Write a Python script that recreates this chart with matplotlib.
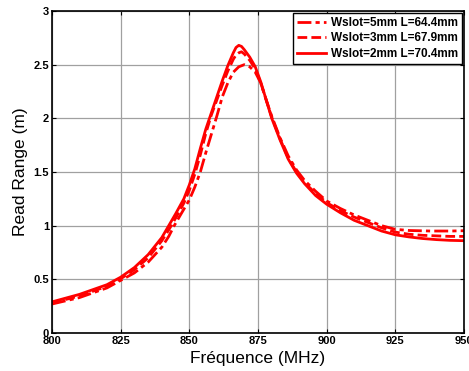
import matplotlib
matplotlib.use("Agg")
import matplotlib.pyplot as plt

freq_5mm = [800, 810, 820, 825, 830, 835, 840, 842.5, 844.5, 847, 850, 852, 854, 856, 858, 860, 862, 864, 866, 868, 870, 872, 874, 876, 878, 880, 883, 886, 889, 892, 896, 900, 905, 910, 913, 920, 925, 930, 938, 945, 950]
rr_5mm = [0.27, 0.33, 0.42, 0.49, 0.56, 0.66, 0.80, 0.90, 1.00, 1.11, 1.24, 1.36, 1.50, 1.68, 1.85, 2.02, 2.20, 2.33, 2.43, 2.48, 2.50, 2.48, 2.43, 2.33, 2.17, 2.02, 1.82, 1.65, 1.52, 1.42, 1.32, 1.23, 1.16, 1.10, 1.07, 1.00, 0.966, 0.955, 0.95, 0.95, 0.953]

freq_3mm = [800, 810, 820, 825, 830, 835, 840, 842.5, 845, 848, 850, 852, 854, 856, 858, 860, 862, 864, 866, 867, 868, 869, 870, 872, 874, 876, 878, 880, 883, 886, 889, 892, 896, 900, 905, 910, 915, 920, 925, 930, 935, 940, 945, 950]
rr_3mm = [0.28, 0.345, 0.435, 0.505, 0.59, 0.70, 0.86, 0.96, 1.07, 1.21, 1.33, 1.48, 1.66, 1.86, 2.03, 2.17, 2.31, 2.44, 2.55, 2.59, 2.61, 2.62, 2.60, 2.54, 2.46, 2.33, 2.17, 2.01, 1.81, 1.63, 1.50, 1.40, 1.30, 1.215, 1.14, 1.08, 1.03, 0.98, 0.94, 0.92, 0.91, 0.905, 0.90, 0.90]

freq_2mm = [800, 810, 820, 825, 830, 835, 840, 842.5, 845, 848, 850, 852, 854, 856, 858, 860, 862, 864, 866, 867, 868, 869, 870, 872, 874, 876, 878, 880, 883, 886, 889, 892, 896, 900, 905, 910, 915, 920, 925, 930, 935, 940, 945, 950]
rr_2mm = [0.29, 0.36, 0.45, 0.52, 0.61, 0.73, 0.89, 1.00, 1.11, 1.25, 1.38, 1.53, 1.72, 1.90, 2.05, 2.20, 2.35, 2.49, 2.61, 2.66, 2.68, 2.67, 2.64, 2.57, 2.48, 2.34, 2.17, 2.00, 1.80, 1.62, 1.49, 1.39, 1.28, 1.20, 1.12, 1.05, 1.00, 0.95, 0.915, 0.895, 0.88, 0.87, 0.863, 0.86]

labels = ["Wslot=5mm L=64.4mm", "Wslot=3mm L=67.9mm", "Wslot=2mm L=70.4mm"]
xticks = [800, 825, 850, 875, 900, 925, 950]
yticks = [0, 0.5, 1, 1.5, 2, 2.5, 3]
ytick_labels = ["0", "0.5", "1", "1.5", "2", "2.5", "3"]

plt.rcParams['font.family'] = ['Liberation Sans', 'DejaVu Sans']

fig = plt.figure(figsize=(4.69, 3.71), dpi=100)
ax = fig.add_axes([52/469, 38/371, 412/469, 322/371])

ax.plot(freq_5mm, rr_5mm, color='red', lw=2, linestyle=(0, (5, 1.5, 1.5, 1.5)), label=labels[0])
ax.plot(freq_3mm, rr_3mm, color='red', lw=2, linestyle=(0, (3.5, 1.5)), label=labels[1])
ax.plot(freq_2mm, rr_2mm, color='red', lw=2, linestyle='-', label=labels[2])

ax.set_xlim(800, 950)
ax.set_ylim(0, 3)
ax.set_xticks(xticks)
ax.set_xticklabels([str(x) for x in xticks], fontweight='bold', fontsize=8)
ax.set_yticks(yticks)
ax.set_yticklabels(ytick_labels, fontweight='bold', fontsize=8)
ax.tick_params(direction='in', top=True, right=True, length=3, width=0.8, pad=2)
ax.grid(True, color='#a0a0a0', lw=0.9)
for s in ax.spines.values():
    s.set_linewidth(1.2)

ax.set_xlabel("Fréquence (MHz)", fontsize=12.5, labelpad=4)
ax.set_ylabel("Read Range (m)", fontsize=12.5, labelpad=4)

leg = ax.legend(loc='upper right', prop={'weight': 'bold', 'size': 8.5}, fancybox=False,
                framealpha=1, edgecolor='black', handlelength=2.5, handletextpad=0.4,
                borderaxespad=0.2, labelspacing=0.3, borderpad=0.3)
leg.get_frame().set_linewidth(1.0)

fig.savefig("out.png", dpi=100)
